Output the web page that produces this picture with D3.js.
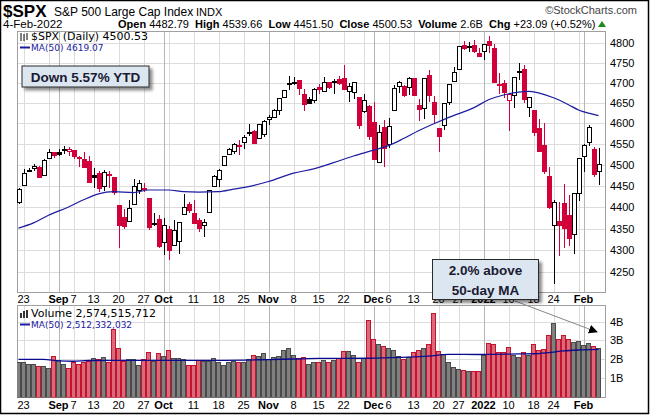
<!DOCTYPE html>
<html>
<head>
<meta charset="utf-8">
<script src="https://cdn.jsdelivr.net/npm/d3@7"></script>
<style>
  body { margin: 0; background: #fff; }
  svg { display: block; font-family: "Liberation Sans", Arial, sans-serif; }
</style>
</head>
<body>
<svg id="chart" width="650" height="415"></svg>
<script>
const dates = [
  "2021-08-20","2021-08-23","2021-08-24","2021-08-25","2021-08-26","2021-08-27","2021-08-30","2021-08-31",
  "2021-09-01","2021-09-02","2021-09-03","2021-09-07","2021-09-08","2021-09-09","2021-09-10","2021-09-13","2021-09-14","2021-09-15","2021-09-16","2021-09-17","2021-09-20","2021-09-21","2021-09-22","2021-09-23","2021-09-24","2021-09-27","2021-09-28","2021-09-29","2021-09-30",
  "2021-10-01","2021-10-04","2021-10-05","2021-10-06","2021-10-07","2021-10-08","2021-10-11","2021-10-12","2021-10-13","2021-10-14","2021-10-15","2021-10-18","2021-10-19","2021-10-20","2021-10-21","2021-10-22","2021-10-25","2021-10-26","2021-10-27","2021-10-28","2021-10-29",
  "2021-11-01","2021-11-02","2021-11-03","2021-11-04","2021-11-05","2021-11-08","2021-11-09","2021-11-10","2021-11-11","2021-11-12","2021-11-15","2021-11-16","2021-11-17","2021-11-18","2021-11-19","2021-11-22","2021-11-23","2021-11-24","2021-11-26","2021-11-29","2021-11-30",
  "2021-12-01","2021-12-02","2021-12-03","2021-12-06","2021-12-07","2021-12-08","2021-12-09","2021-12-10","2021-12-13","2021-12-14","2021-12-15","2021-12-16","2021-12-17","2021-12-20","2021-12-21","2021-12-22","2021-12-23","2021-12-27","2021-12-28","2021-12-29","2021-12-30","2021-12-31",
  "2022-01-03","2022-01-04","2022-01-05","2022-01-06","2022-01-07","2022-01-10","2022-01-11","2022-01-12","2022-01-13","2022-01-14","2022-01-18","2022-01-19","2022-01-20","2022-01-21","2022-01-24","2022-01-25","2022-01-26","2022-01-27","2022-01-28","2022-01-31",
  "2022-02-01","2022-02-02","2022-02-03","2022-02-04"
];

const open = [
  4410.56,4450.29,4484.40,4490.45,4493.75,4474.10,4513.76,4529.75,
  4528.80,4534.48,4532.42,4535.38,4518.09,4513.02,4506.92,4474.81,4479.33,4447.49,4477.09,4469.74,4402.95,4374.45,4367.43,4406.75,4438.04,4442.12,4419.54,4362.41,4370.67,
  4317.16,4348.84,4309.87,4319.57,4383.73,4406.51,4385.44,4368.31,4358.01,4386.75,4447.69,4463.72,4497.34,4524.42,4532.24,4546.12,4553.69,4578.69,4580.22,4562.84,4572.87,
  4610.62,4613.34,4630.65,4662.93,4699.26,4701.48,4707.25,4670.26,4659.39,4655.24,4689.30,4679.42,4701.50,4700.72,4708.44,4712.00,4678.48,4675.78,4664.63,4628.75,4640.25,
  4602.82,4504.73,4589.49,4548.37,4631.97,4690.86,4691.00,4687.64,4710.30,4642.99,4636.46,4719.13,4652.50,4587.90,4594.96,4650.36,4703.96,4733.99,4795.49,4788.64,4794.23,4775.21,
  4778.14,4804.51,4787.99,4693.39,4697.66,4655.34,4669.14,4728.59,4733.56,4637.99,4632.24,4588.03,4547.35,4471.38,4356.32,4366.64,4408.43,4380.58,4336.19,4431.79,
  4519.57,4552.53,4535.41,4482.79
];
const high = [
  4444.35,4489.88,4492.81,4501.71,4495.90,4513.33,4537.36,4531.39,
  4537.11,4545.85,4541.45,4535.38,4521.79,4529.90,4520.47,4492.99,4485.68,4486.87,4485.87,4471.52,4402.95,4394.87,4416.75,4465.40,4463.12,4457.30,4419.54,4385.57,4382.55,
  4375.19,4355.51,4369.23,4365.57,4429.97,4412.02,4415.88,4374.89,4372.87,4439.73,4475.82,4488.75,4520.40,4540.87,4551.44,4559.67,4572.62,4598.53,4584.57,4597.55,4608.08,
  4620.34,4635.15,4663.46,4683.00,4718.50,4714.92,4708.53,4684.85,4664.55,4688.47,4697.42,4714.95,4701.50,4708.80,4717.75,4743.83,4699.39,4702.87,4664.63,4672.95,4646.02,
  4652.94,4595.46,4608.03,4612.60,4694.04,4705.06,4695.26,4713.57,4710.30,4660.47,4712.60,4731.99,4666.70,4587.90,4651.14,4697.67,4740.74,4791.49,4807.02,4804.06,4808.93,4786.83,
  4796.64,4818.62,4797.70,4725.01,4707.95,4673.02,4714.13,4748.83,4744.13,4665.13,4632.24,4611.55,4602.11,4494.52,4417.35,4411.01,4453.23,4428.74,4432.72,4516.89,
  4550.49,4595.31,4542.88,4539.66
];
const low = [
  4406.80,4450.29,4482.28,4485.66,4468.99,4474.10,4513.76,4515.80,
  4522.02,4524.66,4521.65,4513.00,4493.95,4492.07,4457.66,4445.70,4435.46,4438.37,4443.80,4427.76,4305.91,4347.96,4367.43,4406.75,4430.27,4436.19,4346.33,4355.08,4306.24,
  4288.52,4278.94,4309.87,4290.49,4383.73,4386.22,4360.59,4342.09,4329.92,4386.75,4447.69,4447.47,4496.41,4524.40,4526.89,4524.00,4537.36,4569.17,4551.66,4562.84,4567.59,
  4595.06,4613.34,4621.19,4662.59,4681.32,4694.39,4670.87,4630.86,4648.31,4650.77,4672.86,4679.42,4684.41,4672.78,4694.22,4682.17,4652.66,4659.89,4585.43,4625.26,4560.00,
  4510.27,4504.73,4495.12,4540.51,4631.97,4674.52,4665.98,4670.24,4667.60,4606.52,4611.22,4651.89,4600.22,4531.10,4583.16,4645.53,4703.96,4733.99,4782.08,4778.08,4775.33,4765.75,
  4758.17,4774.27,4699.44,4671.26,4662.74,4582.24,4638.27,4706.71,4650.29,4614.75,4568.70,4530.20,4477.95,4395.34,4222.62,4287.11,4304.80,4309.50,4292.46,4414.02,
  4483.53,4544.32,4470.39,4451.50
];
const close = [
  4441.67,4479.53,4486.23,4496.19,4470.00,4509.37,4528.79,4522.68,
  4524.09,4536.95,4535.43,4520.03,4514.07,4493.28,4458.58,4468.73,4443.05,4480.70,4473.75,4432.99,4357.73,4354.19,4395.64,4448.98,4455.48,4443.11,4352.63,4359.46,4307.54,
  4357.04,4300.46,4345.72,4363.55,4399.76,4391.34,4361.19,4350.65,4363.80,4438.26,4471.37,4486.46,4519.63,4536.19,4549.78,4544.90,4566.48,4574.79,4551.68,4596.42,4605.38,
  4613.67,4630.65,4660.57,4680.06,4697.53,4701.70,4685.25,4646.71,4649.27,4682.85,4682.80,4700.90,4688.67,4704.54,4697.96,4682.94,4690.70,4701.46,4594.62,4655.27,4567.00,
  4513.04,4577.10,4538.43,4591.67,4686.75,4701.21,4667.45,4712.02,4668.97,4634.09,4709.85,4668.67,4620.64,4568.02,4649.23,4696.56,4725.79,4791.19,4786.35,4793.06,4778.73,4766.18,
  4796.56,4793.54,4700.58,4696.05,4677.03,4670.29,4713.07,4726.35,4659.03,4662.85,4577.11,4532.76,4482.73,4397.94,4410.13,4356.45,4349.93,4326.51,4431.85,4515.55,
  4546.54,4589.38,4477.44,4500.53
];
const prevClose0 = 4405.80;

// volume in billions of shares
const volume = [
  1.79,1.84,1.72,1.72,1.61,1.61,1.50,2.14,
  1.93,1.73,1.50,1.79,1.72,1.79,1.86,2.04,1.99,2.10,1.82,3.55,2.57,1.89,1.98,1.98,1.66,1.98,2.37,1.89,2.27,
  2.14,2.43,2.04,2.04,1.97,1.66,1.66,1.93,1.89,1.89,2.04,1.84,1.66,1.84,1.89,1.79,1.84,1.98,2.20,2.16,2.32,
  1.98,2.07,2.16,2.46,2.57,2.20,2.04,2.10,1.73,1.84,1.79,1.93,1.80,1.91,2.04,2.39,2.39,2.20,1.82,2.04,4.04,
  3.05,2.80,2.66,2.57,2.46,2.12,2.00,2.10,2.37,2.46,2.57,2.75,4.44,2.39,2.25,1.82,1.56,1.45,1.40,1.31,1.31,1.31,
  2.20,2.84,2.80,2.37,2.37,2.62,2.20,2.10,2.37,2.20,2.75,2.46,2.52,3.23,3.90,3.05,3.23,3.05,2.90,2.96,
  2.70,2.84,2.69,2.575
];

// 50-day moving averages (trading-day index, value)
const maIdx   = [0,3,6,10,13,16,19,23,26,30,33,36,40,43,46,50,55,59,63,67,71,74,77,80,84,87,91,94,97,100,102,104,107,110,112,114,116];
const maPrice = [4351,4363,4381,4400,4417,4431,4436,4434,4440,4440,4436,4435,4436,4442,4448,4460,4480,4490,4505,4521,4535,4546,4563,4582,4604,4619,4638,4658,4670,4677,4679,4675,4663,4646,4633,4625,4619.07];
const vmaIdx  = [0,5,8,11,14,20,30,40,50,55,60,70,76,82,86,92,95,100,103,106,109,112,116];
const vmaVol  = [1.98,1.98,1.90,1.88,1.92,1.93,1.93,1.93,1.97,2.00,2.03,2.04,2.09,2.15,2.25,2.24,2.25,2.27,2.28,2.34,2.43,2.48,2.512];

const priceTicks = [4250,4300,4350,4400,4450,4500,4550,4600,4650,4700,4750,4800];
const volTicks = [1,2,3,4];
const tickDates  = ["2021-08-23","2021-08-30","2021-09-01","2021-09-07","2021-09-13","2021-09-20","2021-09-27","2021-10-01","2021-10-04","2021-10-11","2021-10-18","2021-10-25","2021-11-01","2021-11-08","2021-11-15","2021-11-22","2021-11-29","2021-12-01","2021-12-06","2021-12-13","2021-12-20","2021-12-27","2022-01-03","2022-01-10","2022-01-18","2022-01-24","2022-01-31","2022-02-01"];
const tickLabels = ["23","","Sep","7","13","20","27","Oct","","11","18","25","Nov","8","15","22","","Dec","6","13","20","27","2022","10","18","24","","Feb"];
const monthTicks = ["Sep","Oct","Nov","Dec","2022","Feb"];

const RED = "#d1003a", BLACK = "#000";
const main = { left: 17, right: 605.5, top: 31, bottom: 292.5 };
const vol  = { top: 305, bottom: 397.5 };

const svg = d3.select("#chart");

const x = d3.scaleBand().domain(dates).range([16, 601]).padding(0);
const cx = d => x(d) + x.bandwidth() / 2;
const y = d3.scaleLog().domain([4250, 4800]).range([272.3, 43.3]);
const yv = d3.scaleLinear().domain([0, 4]).range([396.5, 321.5]);

const defs = svg.append("defs");
defs.append("clipPath").attr("id", "clipMain").append("rect")
  .attr("x", main.left).attr("y", main.top).attr("width", main.right - main.left).attr("height", main.bottom - main.top);
defs.append("clipPath").attr("id", "clipVol").append("rect")
  .attr("x", main.left).attr("y", vol.top).attr("width", main.right - main.left).attr("height", vol.bottom - vol.top);
const sh = defs.append("filter").attr("id", "shadow").attr("x", "-10%").attr("y", "-20%").attr("width", "130%").attr("height", "160%");
sh.append("feDropShadow").attr("dx", 3).attr("dy", 3).attr("stdDeviation", 1.5).attr("flood-color", "#000").attr("flood-opacity", 0.45);
const mk = defs.append("marker").attr("id", "arrow").attr("viewBox", "0 0 10 10").attr("refX", 9).attr("refY", 5)
  .attr("markerWidth", 9).attr("markerHeight", 9).attr("orient", "auto").attr("markerUnits", "userSpaceOnUse");
mk.append("path").attr("d", "M0,0L10,5L0,10z").attr("fill", "#000");

svg.append("rect").attr("width", 650).attr("height", 415).attr("fill", "#fff");

// panels: grid
function grid(top, bottom, yTicks, yScale) {
  const g = svg.append("g").attr("shape-rendering", "crispEdges");
  g.selectAll(".h").data(yTicks).join("line")
    .attr("x1", main.left).attr("x2", main.right)
    .attr("y1", d => Math.round(yScale(d)) + 0.5).attr("y2", d => Math.round(yScale(d)) + 0.5)
    .attr("stroke", "#dcdcdc");
  g.selectAll(".v").data(tickDates).join("line")
    .attr("x1", d => Math.round(cx(d)) + 0.5).attr("x2", d => Math.round(cx(d)) + 0.5)
    .attr("y1", top).attr("y2", bottom)
    .attr("stroke", (d, i) => monthTicks.includes(tickLabels[i]) ? "#b4b4b4" : "#dcdcdc");
  g.append("rect").attr("x", main.left + 0.5).attr("y", top + 0.5)
    .attr("width", main.right - main.left - 1).attr("height", bottom - top - 1)
    .attr("fill", "none").attr("stroke", "#a0a0a0");
}
grid(main.top, main.bottom, priceTicks, y);
grid(vol.top, vol.bottom, volTicks, yv);

// candles
const candles = dates.map((d, i) => ({
  d, o: open[i], h: high[i], l: low[i], c: close[i],
  col: close[i] >= (i ? close[i - 1] : prevClose0) ? BLACK : RED,
  hollow: close[i] > open[i]
}));
const cg = svg.append("g").attr("clip-path", "url(#clipMain)").attr("shape-rendering", "crispEdges");
cg.selectAll(".wick").data(candles).join("line")
  .attr("x1", d => Math.round(cx(d.d)) + 0.5).attr("x2", d => Math.round(cx(d.d)) + 0.5)
  .attr("y1", d => y(d.h)).attr("y2", d => y(d.l))
  .attr("stroke", d => d.col);
cg.selectAll(".body").data(candles).join("rect")
  .attr("x", d => Math.round(cx(d.d)) - 1.5)
  .attr("width", 4)
  .attr("y", d => y(Math.max(d.o, d.c)))
  .attr("height", d => Math.max(1, y(Math.min(d.o, d.c)) - y(Math.max(d.o, d.c))))
  .attr("fill", d => d.hollow ? "#fff" : d.col)
  .attr("stroke", d => d.col).attr("stroke-width", 1);

// price MA(50)
const maLine = d3.line().x(d => cx(dates[d[0]])).y(d => y(d[1])).curve(d3.curveMonotoneX);
svg.append("path").attr("clip-path", "url(#clipMain)")
  .attr("d", maLine(maIdx.map((k, i) => [k, maPrice[i]])))
  .attr("fill", "none").attr("stroke", "#1c1ca0").attr("stroke-width", 1.2);

// volume bars
const vg = svg.append("g").attr("clip-path", "url(#clipVol)").attr("shape-rendering", "crispEdges");
vg.selectAll("rect").data(candles).join("rect")
  .attr("x", d => Math.round(x(d.d)) + 0.5)
  .attr("width", 4)
  .attr("y", (d, i) => yv(volume[i]))
  .attr("height", (d, i) => yv(0) - yv(volume[i]) + 1)
  .attr("fill", d => d.col === RED ? "#d86a7a" : "#808080")
  .attr("stroke", d => d.col === RED ? "#c4122f" : "#4a4a4a");

const vmaLine = d3.line().x(d => cx(dates[d[0]])).y(d => yv(d[1])).curve(d3.curveMonotoneX);
svg.append("path").attr("clip-path", "url(#clipVol)")
  .attr("d", vmaLine(vmaIdx.map((k, i) => [k, vmaVol[i]])))
  .attr("fill", "none").attr("stroke", "#0a0a90").attr("stroke-width", 1.3);

// right axis labels
svg.append("g").selectAll("text").data(priceTicks).join("text")
  .attr("x", 610).attr("y", d => y(d) + 4)
  .attr("font-size", 11).attr("fill", "#000").text(d => d);
svg.append("g").selectAll("text").data(volTicks).join("text")
  .attr("x", 610).attr("y", d => yv(d) + 4)
  .attr("font-size", 11).attr("fill", "#000").text(d => d + "B");

// date labels (between panels and at the bottom)
[299 + 4, 405 + 4].forEach(ty => {
  svg.append("g").selectAll("text").data(tickDates.filter((d, i) => tickLabels[i]))
    .join("text")
    .attr("x", d => cx(d)).attr("y", ty).attr("text-anchor", "middle")
    .attr("font-size", 11)
    .attr("font-weight", d => monthTicks.includes(tickLabels[tickDates.indexOf(d)]) ? "bold" : "normal")
    .text(d => tickLabels[tickDates.indexOf(d)]);
});

// header
svg.append("text").attr("x", 3).attr("y", 17).attr("font-size", 17).attr("font-weight", "bold").text("$SPX");
svg.append("text").attr("x", 54).attr("y", 16).attr("font-size", 12).text("S&P 500 Large Cap Index");
svg.append("text").attr("x", 196).attr("y", 16).attr("font-size", 11).text("INDX");
svg.append("text").attr("x", 637).attr("y", 14).attr("font-size", 11).attr("fill", "#444").attr("text-anchor", "end").text("\u00a9StockCharts.com");
svg.append("text").attr("x", 3).attr("y", 28).attr("font-size", 11.5).text("4-Feb-2022");
const hdr = svg.append("text").attr("x", 118).attr("y", 28).attr("font-size", 11);
[["Open", 1], [" 4482.79  ", 0], ["High", 1], [" 4539.66  ", 0], ["Low", 1], [" 4451.50  ", 0], ["Close", 1], [" 4500.53  ", 0],
 ["Volume", 1], [" 2.6B  ", 0], ["Chg", 1], [" +23.09 (+0.52%)", 0]].forEach(([t, b]) =>
  hdr.append("tspan").attr("font-weight", b ? "bold" : "normal").attr("xml:space", "preserve").text(t));
svg.append("path").attr("d", "M598,27 L602,21 L606,27 Z").attr("fill", "#1a8a1a");

// legends
const lg = svg.append("g").attr("font-family", "DejaVu Sans, sans-serif");
lg.append("path").attr("d", "M21,33v8M24,34v7M27,33v7").attr("stroke", "#000");
lg.append("text").attr("x", 31).attr("y", 40).attr("font-size", 11).text("$SPX (Daily) 4500.53");
lg.append("line").attr("x1", 20).attr("x2", 30).attr("y1", 47.5).attr("y2", 47.5).attr("stroke", "#1c1ca0").attr("stroke-width", 2);
lg.append("text").attr("x", 31).attr("y", 51).attr("font-size", 9).attr("fill", "#1c1ca0").text("MA(50) 4619.07");
lg.append("path").attr("d", "M21,318v-5M24,318v-7M27,318v-8").attr("stroke", "#333").attr("stroke-width", 2);
lg.append("text").attr("x", 31).attr("y", 317).attr("font-size", 11).text("Volume 2,574,515,712");
lg.append("line").attr("x1", 20).attr("x2", 30).attr("y1", 324.5).attr("y2", 324.5).attr("stroke", "#1c1ca0").attr("stroke-width", 2);
lg.append("text").attr("x", 31).attr("y", 328).attr("font-size", 9).attr("fill", "#1c1ca0").text("MA(50) 2,512,332,032");

// annotations
function note(x0, y0, w, h, lines) {
  const g = svg.append("g");
  g.append("rect").attr("x", x0).attr("y", y0).attr("width", w).attr("height", h)
    .attr("fill", "#dce6f1").attr("stroke", "#2b2b2b").attr("filter", "url(#shadow)");
  lines.forEach((t, i) => g.append("text")
    .attr("x", x0 + w / 2).attr("y", y0 + (h / lines.length) * (i + 0.5) + 5)
    .attr("text-anchor", "middle").attr("font-size", 13.5).attr("font-weight", "bold").attr("fill", "#1a1a33").text(t));
}
note(22, 66, 127, 21, ["Down 5.57% YTD"]);
svg.append("line").attr("x1", 515).attr("y1", 301).attr("x2", 597).attr("y2", 332)
  .attr("stroke", "#888").attr("stroke-width", 1).attr("marker-end", "url(#arrow)");
note(432.5, 259.5, 106, 40, ["2.0% above", "50-day MA"]);

// outer frame
svg.append("rect").attr("x", 0.5).attr("y", 0.5).attr("width", 648).attr("height", 413)
  .attr("fill", "none").attr("stroke", "#000").attr("stroke-width", 1.5);
</script>
</body>
</html>
